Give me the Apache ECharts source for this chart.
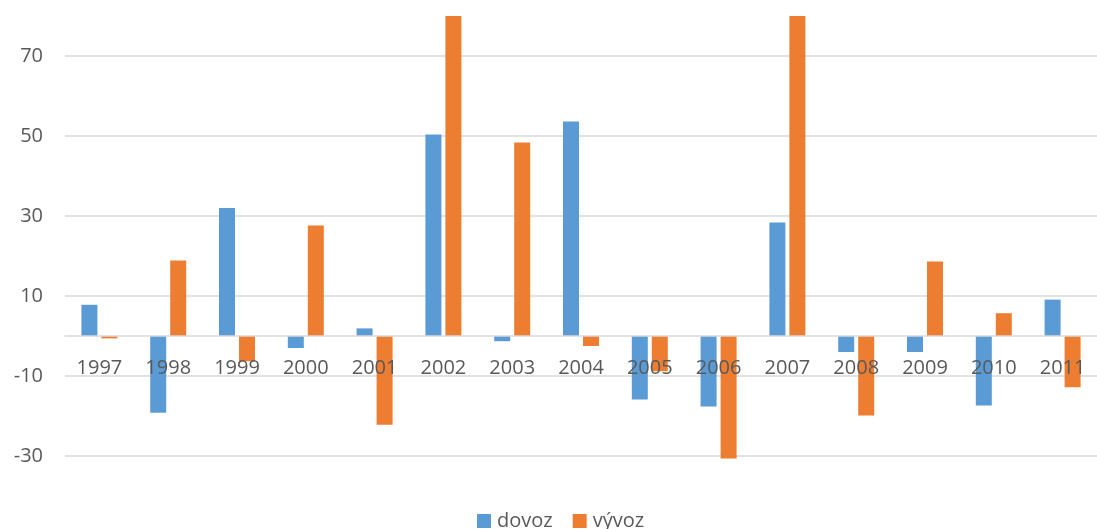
<!DOCTYPE html>
<html>
<head>
<meta charset="utf-8">
<script src="https://cdn.jsdelivr.net/npm/echarts@6/dist/echarts.min.js"></script>
<style>
  html, body { margin: 0; padding: 0; background: #ffffff; }
  #chart { width: 1097px; height: 529px; }
</style>
</head>
<body>
<div id="chart"></div>
<script>
// Year-on-year change of imports (dovoz) and exports (vývoz)
const years = ['1997', '1998', '1999', '2000', '2001', '2002', '2003', '2004',
               '2005', '2006', '2007', '2008', '2009', '2010', '2011'];
const dovoz = [7.8, -19.2, 32, -3, 1.9, 50.4, -1.3, 53.6, -15.9, -17.6, 28.4, -4, -4, -17.4, 9.1];
const vyvoz = [-0.6, 18.9, -6.3, 27.6, -22.2, 82, 48.4, -2.5, -8.8, -30.6, 82, -19.9, 18.6, 5.7, -12.8];
const yTicks = [-30, -10, 10, 30, 50, 70];
const yMin = -31;
const yMax = 80;

const textColor = '#595959';
const gridColor = '#d9d9d9';
const font = '"Open Sans", "Noto Sans", sans-serif';

const gridTop = 16;
const gridBottom = 69;
const chartHeight = 529;

// place the category axis (line and labels) at the zero level of the value axis
const plotHeight = chartHeight - gridTop - gridBottom;
const zeroOffset = -plotHeight * (0 - yMin) / (yMax - yMin);

const chart = echarts.init(document.getElementById('chart'));
chart.setOption({
  animation: false,
  backgroundColor: '#ffffff',
  textStyle: { fontFamily: font },
  grid: { left: 65, right: -11, top: gridTop, bottom: gridBottom, containLabel: false },
  legend: {
    left: 477,
    top: 511,
    padding: 0,
    icon: 'rect',
    itemWidth: 14,
    itemHeight: 14,
    itemGap: 20,
    textStyle: { fontFamily: font, fontSize: 20, color: textColor, padding: [0, 0, 0, 1] },
    data: ['dovoz', 'vývoz']
  },
  xAxis: {
    type: 'category',
    data: years,
    position: 'bottom',
    offset: zeroOffset,
    z: 10,
    axisLine: { onZero: false, lineStyle: { color: gridColor, width: 1.5 } },
    axisTick: { show: false },
    axisLabel: {
      interval: 0,
      margin: 22,
      fontFamily: font,
      fontSize: 20,
      color: textColor
    }
  },
  yAxis: {
    type: 'value',
    min: yMin,
    max: yMax,
    axisLine: { show: false },
    axisTick: { show: false, customValues: yTicks },
    axisLabel: {
      customValues: yTicks,
      margin: 22,
      fontFamily: font,
      fontSize: 20,
      color: textColor
    },
    splitLine: { show: true, lineStyle: { color: gridColor, width: 1.5 } }
  },
  series: [
    {
      name: 'dovoz',
      type: 'bar',
      data: dovoz,
      barWidth: 16,
      barGap: '25%',
      clip: true,
      itemStyle: { color: '#5b9bd5' }
    },
    {
      name: 'vývoz',
      type: 'bar',
      data: vyvoz,
      barWidth: 16,
      barGap: '25%',
      clip: true,
      itemStyle: { color: '#ed7d31' }
    }
  ]
});
</script>
</body>
</html>
